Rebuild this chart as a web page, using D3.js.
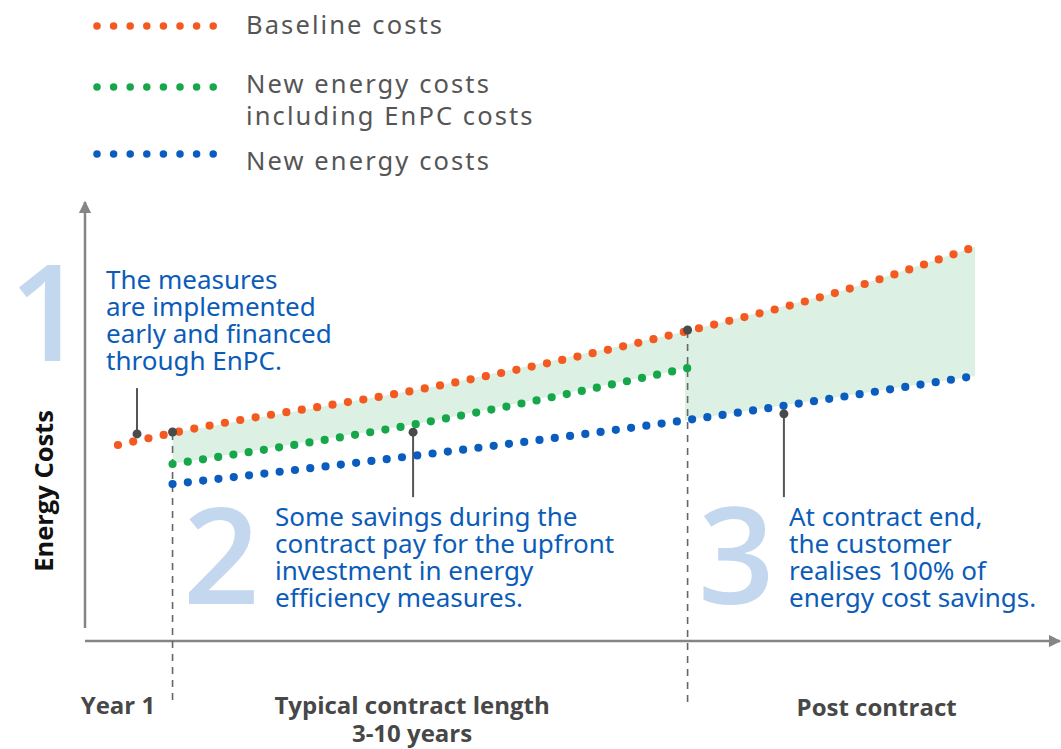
<!DOCTYPE html>
<html>
<head>
<meta charset="utf-8">
<script src="https://cdn.jsdelivr.net/npm/d3@7"></script>
<style>
  html, body { margin: 0; padding: 0; background: #ffffff; }
  svg { display: block; }
</style>
</head>
<body>
<svg id="chart" width="1061" height="749"></svg>
<script>
// ---------------- data ----------------
const seriesNames = ["Baseline costs", "New energy costs\nincluding EnPC costs", "New energy costs"];
const baselineT = [-0.06, 1, 6.06, 11, 14, 16.58];
const baselineV = [44.95, 47.7, 58.3, 71.1, 80.3, 90.4];
const enpcT = [1, 5.84, 11];
const enpcV = [40.6, 50.0, 62.6];
const newT = [1, 6.25, 11, 16.58];
const newV = [36.0, 43.3, 50.7, 60.8];
const phaseBounds = [1, 11];           // contract start / end (time units)
const phaseLabels = [
  { t: -0.06, lines: ["Year 1"] },
  { t: 5.65, lines: ["Typical contract length", "3-10 years"] },
  { t: 14.67, lines: ["Post contract"] }
];
const callouts = [
  { t: 0.31, v: 47.5, end: 58.0 },
  { t: 5.67, v: 47.9, end: 33.0 },
  { t: 12.87, v: 52.1, end: 33.0 }
];
const notes = [
  { num: "1", lines: ["The measures", "are implemented", "early and financed", "through EnPC."] },
  { num: "2", lines: ["Some savings during the", "contract pay for the upfront", "investment in energy", "efficiency measures."] },
  { num: "3", lines: ["At contract end,", "the customer", "realises 100% of", "energy cost savings."] }
];
const colors = ["#f45a1f", "#17a74b", "#0a5dbf"];

// ---------------- setup ----------------
const svg = d3.select("#chart");
const x = d3.scaleLinear().domain([-0.7, 18.25]).range([85, 1061]);
const y = d3.scaleLinear().domain([0, 100]).range([641, 205]);

const zip = (ts, vs) => ts.map((t, i) => ({ t, v: vs[i] }));
const baseline = zip(baselineT, baselineV);
const enpc = zip(enpcT, enpcV);
const newc = zip(newT, newV);

const interp = (pts, t) => {
  for (let i = 0; i < pts.length - 1; i++) {
    if (t >= pts[i].t && t <= pts[i + 1].t) {
      const f = (t - pts[i].t) / (pts[i + 1].t - pts[i].t);
      return pts[i].v + f * (pts[i + 1].v - pts[i].v);
    }
  }
  return pts[pts.length - 1].v;
};

const line = d3.line().x(d => x(d.t)).y(d => y(d.v)).curve(d3.curveMonotoneX);

// ---------------- savings area ----------------
const area = d3.area().x(d => x(d.t)).y0(d => y(d.lo)).y1(d => y(d.hi)).curve(d3.curveMonotoneX);
const ts1 = d3.range(phaseBounds[0], phaseBounds[1] + 0.001, 0.25);
const seg1 = ts1.map(t => ({ t, hi: interp(baseline, t), lo: interp(enpc, t) }));
const ts2 = d3.range(phaseBounds[1] - 0.05, 16.58 + 0.001, 0.25).concat([16.58]);
const seg2 = ts2.map(t => ({ t, hi: interp(baseline, t), lo: interp(newc, t) }));
svg.append("path").datum(seg1).attr("d", area).attr("fill", "#dcf0e3");
svg.append("path").datum(seg2).attr("d", area).attr("fill", "#dcf0e3");

// ---------------- axes ----------------
const axisColor = "#858585";
svg.append("defs").append("marker")
  .attr("id", "arrow").attr("viewBox", "0 0 10 10").attr("refX", 9).attr("refY", 5)
  .attr("markerWidth", 5).attr("markerHeight", 5).attr("orient", "auto")
  .append("path").attr("d", "M0,0 L10,5 L0,10 z").attr("fill", axisColor);

svg.append("line")
  .attr("x1", x(-0.7)).attr("y1", y(3)).attr("x2", x(-0.7)).attr("y2", y(100) - 3)
  .attr("stroke", axisColor).attr("stroke-width", 2.5).attr("marker-end", "url(#arrow)");
svg.append("line")
  .attr("x1", x(-0.7)).attr("y1", y(0)).attr("x2", x(18.25) - 1).attr("y2", y(0))
  .attr("stroke", axisColor).attr("stroke-width", 2.5).attr("marker-end", "url(#arrow)");

svg.append("text")
  .attr("transform", `translate(53,${491}) rotate(-90)`)
  .attr("text-anchor", "middle")
  .attr("font-family", "'Open Sans', 'Noto Sans', sans-serif")
  .attr("font-weight", 700).attr("font-size", 25.5).attr("fill", "#111")
  .text("Energy Costs");

// ---------------- phase dividers ----------------
phaseBounds.forEach(t => {
  svg.append("line")
    .attr("x1", x(t)).attr("x2", x(t))
    .attr("y1", y(interp(baseline, t))).attr("y2", y(-14.9))
    .attr("stroke", "#666").attr("stroke-width", 1.6).attr("stroke-dasharray", "7 6");
});

// ---------------- big numbers & notes ----------------
const numPos = [{ x: 9, y: 361 }, { x: 183, y: 604 }, { x: 698, y: 604 }];
const notePos = [{ x: 106, y: 289 }, { x: 275, y: 526 }, { x: 789, y: 526 }];
notes.forEach((n, i) => {
  svg.append("text")
    .attr("x", numPos[i].x).attr("y", numPos[i].y)
    .attr("font-family", "'Open Sans', 'Noto Sans', sans-serif")
    .attr("font-size", 134).attr("font-weight", 600).attr("fill", "#c3d7ee")
    .text(n.num);
  const tx = svg.append("text")
    .attr("font-family", "'Noto Sans', 'Open Sans', sans-serif")
    .attr("font-size", 26).attr("fill", "#0b5cb9");
  n.lines.forEach((l, j) => {
    tx.append("tspan").attr("x", notePos[i].x).attr("y", notePos[i].y + j * 27).text(l);
  });
});

// ---------------- callout leaders ----------------
callouts.forEach(c => {
  svg.append("line")
    .attr("x1", x(c.t)).attr("x2", x(c.t)).attr("y1", y(c.v)).attr("y2", y(c.end))
    .attr("stroke", "#555").attr("stroke-width", 2);
});

// ---------------- dotted series ----------------
const dotted = (sel, col, gap) => sel
  .attr("fill", "none").attr("stroke", col).attr("stroke-width", 8.2)
  .attr("stroke-linecap", "round").attr("stroke-dasharray", `0 ${gap}`);

dotted(svg.append("path").datum(baseline).attr("d", line), colors[0], 15.6);
dotted(svg.append("path").datum(enpc).attr("d", line), colors[1], 15.4);
dotted(svg.append("path").datum(newc).attr("d", line), colors[2], 15.4);

// markers on top
callouts.forEach(c => {
  svg.append("circle").attr("cx", x(c.t)).attr("cy", y(c.v)).attr("r", 4.5).attr("fill", "#4a4a4a");
});
phaseBounds.forEach(t => {
  svg.append("circle").attr("cx", x(t)).attr("cy", y(interp(baseline, t)) - 1).attr("r", 4.5).attr("fill", "#4a4a4a");
});

// ---------------- phase labels ----------------
phaseLabels.forEach((p, i) => {
  const tx = svg.append("text")
    .attr("text-anchor", "middle")
    .attr("font-family", "'Open Sans', 'Noto Sans', sans-serif")
    .attr("font-weight", 700).attr("font-size", 24).attr("fill", "#474747");
  p.lines.forEach((l, j) => {
    tx.append("tspan").attr("x", x(p.t)).attr("y", 714 + (i === 2 ? 2 : 0) + j * 28).text(l);
  });
});

// ---------------- legend ----------------
const legendY = [26, 87, 154];
const legendTextY = [[34], [93, 125], [170]];
seriesNames.forEach((name, i) => {
  svg.append("line")
    .attr("x1", 97).attr("x2", 214).attr("y1", legendY[i]).attr("y2", legendY[i])
    .attr("stroke", colors[i]).attr("stroke-width", 7.5).attr("stroke-linecap", "round")
    .attr("stroke-dasharray", "0 16.6");
  const tx = svg.append("text")
    .attr("font-family", "'Noto Sans', 'Open Sans', sans-serif")
    .attr("font-size", 25.5).attr("fill", "#555").attr("letter-spacing", 2.1);
  name.split("\n").forEach((l, j) => {
    tx.append("tspan").attr("x", 246).attr("y", legendTextY[i][j]).text(l);
  });
});
</script>
</body>
</html>
